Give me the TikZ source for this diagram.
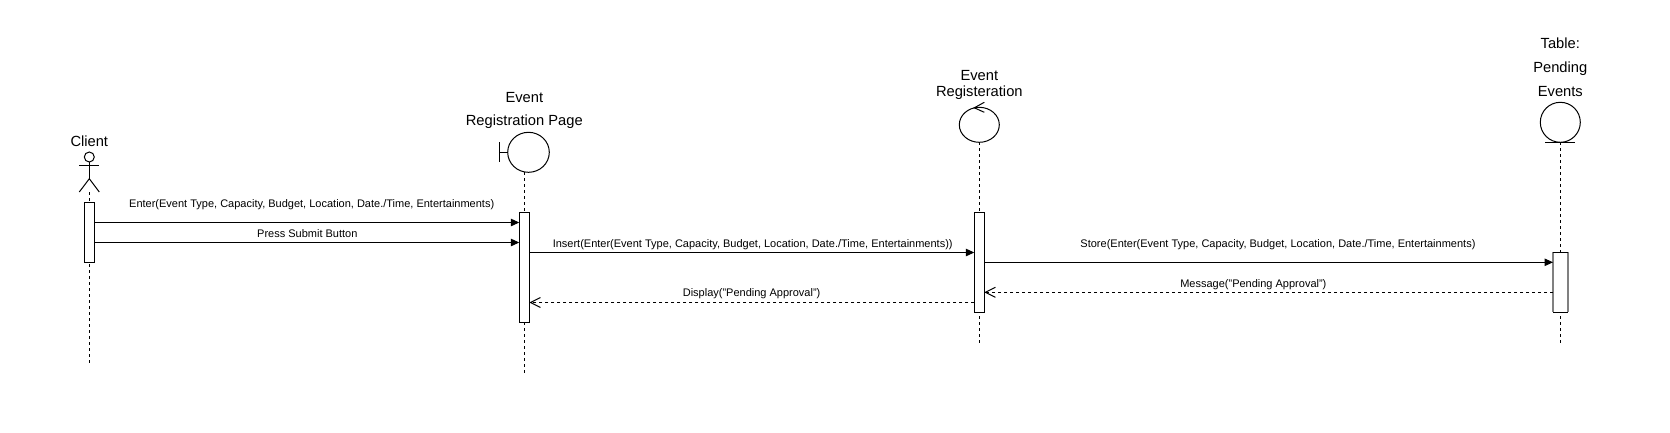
\documentclass[tikz,border=0pt]{standalone}
\usepackage{fontspec}
\setmainfont{Liberation Sans}
\usetikzlibrary{arrows.meta,calc}
\begin{document}
\begin{tikzpicture}[x=1pt,y=-1pt,
  every node/.style={inner sep=0pt, outer sep=0pt},
  ttl/.style={font=\fontsize{14.7}{17}\selectfont, anchor=base},
  mlbl/.style={font=\fontsize{11}{13}\selectfont, anchor=base},
  life/.style={line width=1pt, dash pattern=on 3pt off 3pt},
  actbox/.style={draw, fill=white, line width=1pt, rectangle, minimum width=10pt},
  call/.style={line width=1pt, -{Triangle[length=8.5pt,width=7.5pt]}},
  ret/.style={line width=1pt, dash pattern=on 3pt off 3pt, -{Straight Barb[length=10pt,width=10pt]}},
  shp/.style={line width=1pt}
]
\useasboundingbox[fill=white] (0,0) rectangle (1670,432);

% ---------- Client (actor) ----------
\node[ttl] (clname) at (89.3,146) {Client};
\draw[shp] (89.3,157) circle[radius=5pt];
\draw[shp] (79.3,165.3) -- (99.3,165.3);
\draw[shp] (89.3,162) -- (89.3,178.7);
\draw[shp] (79.3,192) -- (89.3,178.7) -- (99.3,192);
\coordinate (cltop) at (89.3,192);
\coordinate (clbot) at (89.3,362.7);
\draw[life] (cltop) -- (clbot);

% ---------- Event Registration Page (boundary) ----------
\node[ttl] (erpname1) at (524.3,102) {Event};
\node[ttl] (erpname2) at (524.3,125.5) {Registration Page};
\draw[shp] (528.5,152.3) ellipse[x radius=20.8pt, y radius=20pt];
\draw[shp] (499.3,142.3) -- (499.3,162.3);
\draw[shp] (499.3,152.3) -- (507.7,152.3);
\coordinate (erptop) at (524.3,172.3);
\coordinate (erpbot) at (524.3,373.3);
\draw[life] (erptop) -- (erpbot);

% ---------- Event Registeration (control) ----------
\node[ttl] (ername1) at (979.3,80) {Event};
\node[ttl] (ername2) at (979.3,96.5) {Registeration};
\draw[shp] (979.3,124.8) ellipse[x radius=20pt, y radius=17.5pt];
\draw[shp] (984.3,102.3) -- (974.3,107.8) -- (984.3,112.3);
\coordinate (ertop) at (979.3,142.3);
\coordinate (erbot) at (979.3,343.3);
\draw[life] (ertop) -- (erbot);

% ---------- Table: Pending Events (entity) ----------
\node[ttl] (tbname1) at (1560.3,48.3) {Table:};
\node[ttl] (tbname2) at (1560.3,72.3) {Pending};
\node[ttl] (tbname3) at (1560.3,96.3) {Events};
\draw[shp] (1560.3,122.3) circle[radius=20pt];
\draw[shp] (1545.3,142.3) -- (1575.3,142.3);
\coordinate (tbtop) at (1560.3,142.3);
\coordinate (tbbot) at (1560.3,343.3);
\draw[life] (tbtop) -- (tbbot);

% ---------- Activation boxes ----------
\node[actbox, minimum height=60pt] (cact) at (89.3,232.3) {};
\node[actbox, minimum height=110pt] (erpact) at (524.3,267.3) {};
\node[actbox, minimum height=100pt] (eract) at (979.3,262.3) {};
\node[rectangle, fill=white, minimum width=15pt, minimum height=60pt] (tbact) at (1560.5,282.3) {};
\draw[line width=1.6pt, black!50] (tbact.north west) -- (tbact.south west);
\draw[line width=1.6pt, black!50] (tbact.north east) -- (tbact.south east);
\draw[line width=1pt] (tbact.north west) -- (tbact.north east);
\draw[line width=1pt] (tbact.south west) -- (tbact.south east);

% ---------- Messages ----------
\draw[call] (cact.east |- 0,222.5) -- (erpact.west |- 0,222.5)
  node[mlbl, midway, xshift=4.9pt, yshift=15.2pt] (m1) {Enter(Event Type, Capacity, Budget, Location, Date./Time, Entertainments)};
\draw[call] (cact.east |- 0,242.5) -- (erpact.west |- 0,242.5)
  node[mlbl, midway, xshift=0.5pt, yshift=5.2pt] (m2) {Press Submit Button};
\draw[call] (erpact.east |- 0,252.5) -- (eract.west |- 0,252.5)
  node[mlbl, midway, xshift=0.9pt, yshift=5.2pt] (m3) {Insert(Enter(Event Type, Capacity, Budget, Location, Date./Time, Entertainments))};
\draw[call] (eract.east |- 0,262.3) -- (tbact.west |- 0,262.3)
  node[mlbl, midway, xshift=9.3pt, yshift=15pt] (m4) {Store(Enter(Event Type, Capacity, Budget, Location, Date./Time, Entertainments)};
\draw[ret] (tbact.west |- 0,292.3) -- (eract.east |- 0,292.3)
  node[mlbl, midway, xshift=-15.3pt, yshift=5pt] (m5) {Message("Pending Approval")};
\draw[ret] (eract.west |- 0,302.5) -- (erpact.east |- 0,302.5)
  node[mlbl, midway, xshift=-0.2pt, yshift=5.8pt] (m6) {Display("Pending Approval")};
\end{tikzpicture}
\end{document}
